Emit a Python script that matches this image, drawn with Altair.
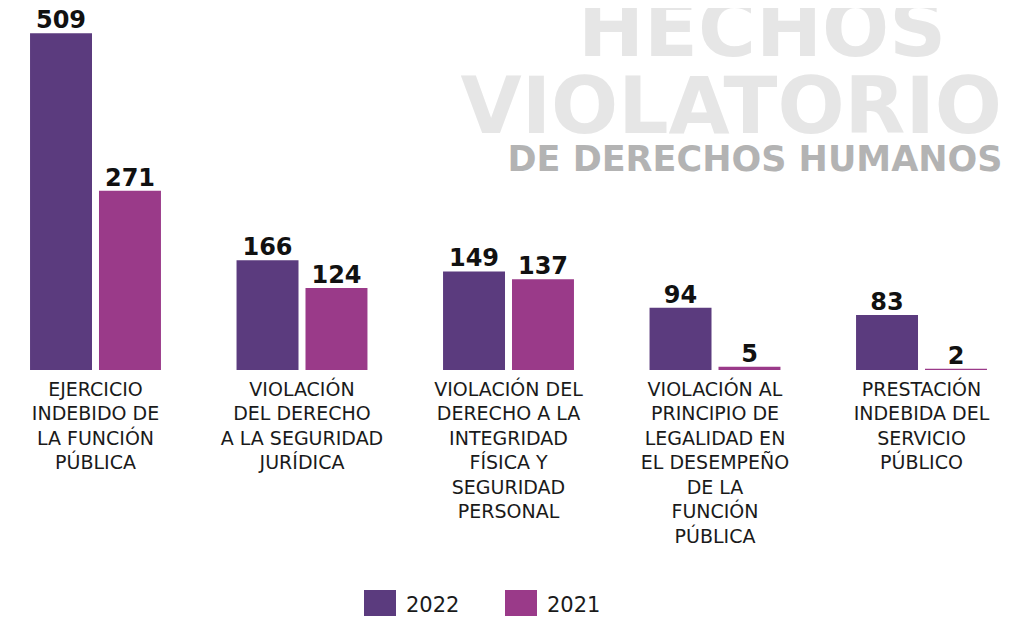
import altair as alt
import pandas as pd

categories = [
    "EJERCICIO|INDEBIDO DE|LA FUNCIÓN|PÚBLICA",
    "VIOLACIÓN|DEL DERECHO|A LA SEGURIDAD|JURÍDICA",
    "VIOLACIÓN DEL|DERECHO A LA|INTEGRIDAD|FÍSICA Y|SEGURIDAD|PERSONAL",
    "VIOLACIÓN AL|PRINCIPIO DE|LEGALIDAD EN|EL DESEMPEÑO|DE LA|FUNCIÓN|PÚBLICA",
    "PRESTACIÓN|INDEBIDA DEL|SERVICIO|PÚBLICO",
]
series = ["2022", "2021"]
values_2022 = [509, 166, 149, 94, 83]
values_2021 = [271, 124, 137, 5, 2]
colors = ["#5b3b7e", "#9a3a89"]
title_lines = ["HECHOS", "VIOLATORIO", "DE DERECHOS HUMANOS"]

rows = []
for c, a, b in zip(categories, values_2022, values_2021):
    rows.append({"cat": c, "year": "2022", "value": a})
    rows.append({"cat": c, "year": "2021", "value": b})
df = pd.DataFrame(rows)

FONT = "DejaVu Sans"

x_enc = alt.X(
    "cat:N",
    sort=categories,
    scale=alt.Scale(paddingInner=0.366, paddingOuter=0.0946, align=0.564),
    axis=alt.Axis(
        title=None,
        labelAngle=0,
        domain=False,
        ticks=False,
        grid=False,
        labelExpr="split(datum.label, '|')",
        labelFont=FONT,
        labelFontSize=19,
        labelColor="#1a1a1a",
        labelLineHeight=24.5,
        labelPadding=10,
        labelLimit=400,
    ),
)
xo_enc = alt.XOffset(
    "year:N", sort=series, scale=alt.Scale(paddingInner=0.1014, paddingOuter=0)
)
y_enc = alt.Y(
    "value:Q",
    scale=alt.Scale(domain=[0, 547], nice=False),
    axis=None,
)
color_enc = alt.Color(
    "year:N",
    sort=series,
    scale=alt.Scale(domain=series, range=colors),
    legend=alt.Legend(
        title=None,
        orient="none",
        legendX=356,
        legendY=582,
        direction="horizontal",
        symbolType="square",
        symbolSize=1024,
        symbolStrokeWidth=0,
        symbolOpacity=1,
        labelFont=FONT,
        labelFontSize=21,
        labelColor="#1a1a1a",
        labelOffset=10,
        columnPadding=45,
    ),
)

base = alt.Chart(df)
bars = base.mark_bar(opacity=1).encode(x=x_enc, xOffset=xo_enc, y=y_enc, color=color_enc)
labels = base.mark_text(
    baseline="alphabetic", dy=-5, font=FONT, fontSize=24, fontWeight="bold", color="#111111"
).encode(x=x_enc, xOffset=xo_enc, y=y_enc, text="value:Q")

t1 = alt.Chart(pd.DataFrame({"t": [title_lines[0]]})).mark_text(
    font=FONT, fontSize=79, fontWeight="bold", color="#e6e6e6", align="center", baseline="alphabetic"
).encode(text="t:N", x=alt.value(754), y=alt.value(48))
t2 = alt.Chart(pd.DataFrame({"t": [title_lines[1]]})).mark_text(
    font=FONT, fontSize=79, fontWeight="bold", color="#e6e6e6", align="right", baseline="alphabetic"
).encode(text="t:N", x=alt.value(994), y=alt.value(125))
t3 = alt.Chart(pd.DataFrame({"t": [title_lines[2]]})).mark_text(
    font=FONT, fontSize=35, fontWeight="bold", color="#b3b3b3", align="center", baseline="alphabetic"
).encode(text="t:N", x=alt.value(747), y=alt.value(163))

chart = (
    alt.layer(t1, t2, t3, bars, labels)
    .properties(
        width=996,
        height=362,
        background="white",
        autosize=alt.AutoSizeParams(type="none"),
        padding={"left": 0, "top": 0, "right": 0, "bottom": 246},
    )
    .configure_view(stroke=None, strokeWidth=0)
)

chart.save("out.html", embed_options={"renderer": "svg", "actions": False})
